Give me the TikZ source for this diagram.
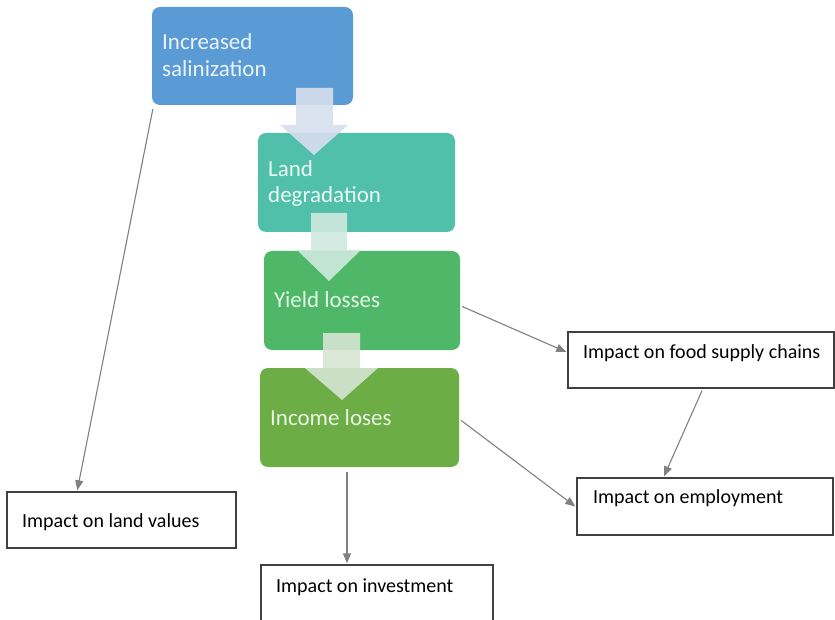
\documentclass[tikz,border=0pt]{standalone}
\usepackage{fontspec}
\setmainfont{Carlito}
\usetikzlibrary{arrows.meta,calc}
\definecolor{cblue}{HTML}{5B9BD5}
\definecolor{cteal}{HTML}{50C0AA}
\definecolor{cgreen}{HTML}{4FB868}
\definecolor{colive}{HTML}{6CAD45}
\definecolor{cline}{HTML}{808080}
\definecolor{cbord}{HTML}{404040}
\definecolor{aone}{HTML}{D8DFEE}
\definecolor{atwo}{HTML}{CFE9DF}
\definecolor{athree}{HTML}{D6E5D3}
\tikzset{
  cbox/.style={draw=none, rounded corners=8pt, inner sep=0pt},
  wbox/.style={draw=cbord, line width=1.4pt, fill=white, inner sep=0pt},
  ctext/.style={anchor=base west, inner sep=0pt, font=\fontsize{23}{27}\selectfont, text=white!88!cblue},
  wtext/.style={anchor=base west, inner sep=0pt, font=\fontsize{20}{24}\selectfont, text=black},
  conn/.style={draw=cline, line width=1.1pt, -{Triangle[length=10pt,width=8pt]}},
  barrow/.style={draw=none, fill opacity=0.9}
}
\begin{document}
\begin{tikzpicture}[x=1pt,y=-1pt]
\useasboundingbox (0,0) rectangle (835,620);
\fill[white] (0,0) rectangle (835,620);
% coloured boxes
\node[cbox, fill=cblue, minimum width=201pt, minimum height=98pt] (sal) at (252.5,56) {};
\node[cbox, fill=cteal, minimum width=197pt, minimum height=99pt] (land) at (356.5,182.5) {};
\node[cbox, fill=cgreen, minimum width=196pt, minimum height=99pt] (yl) at (362,300.5) {};
\node[cbox, fill=colive, minimum width=199pt, minimum height=99pt] (inc) at (359.5,417.5) {};
% block arrows
\fill[aone, barrow] (296,88) -- (333,88) -- (333,125) -- (348,125) -- (314,155) -- (280,125) -- (296,125) -- cycle;
\fill[atwo, barrow] (311,213) -- (347,213) -- (347,250) -- (361,250) -- (329,281) -- (297,250) -- (311,250) -- cycle;
\fill[athree, barrow] (323,333) -- (360,333) -- (360,368) -- (378,368) -- (342,400) -- (305,368) -- (323,368) -- cycle;
% texts of coloured boxes
\node[ctext] (t1a) at (162,50) {Increased};
\node[ctext] (t1b) at (162,77) {salinization};
\node[ctext, text=white!88!cteal] (t2a) at (268,177) {Land};
\node[ctext, text=white!88!cteal] (t2b) at (268,203) {degradation};
\node[ctext, text=white!85!cgreen] (t3) at (274,308) {Yield losses};
\node[ctext, text=white!85!colive] (t4) at (270,425) {Income loses};
% white boxes
\node[wbox, minimum width=266pt, minimum height=56pt] (food) at (701,360) {};
\node[wbox, minimum width=256pt, minimum height=57pt] (emp) at (705,506.5) {};
\node[wbox, minimum width=229pt, minimum height=56pt] (lv) at (121.5,520) {};
\node[wbox, minimum width=232pt, minimum height=57pt] (inv) at (377,593.5) {};
\node[wtext] (tf) at (583,358) {Impact on food supply chains};
\node[wtext] (te) at (593,503) {Impact on employment};
\node[wtext] (tl) at (22,527) {Impact on land values};
\node[wtext] (ti) at (276,592) {Impact on investment};
% connectors
\draw[conn] ($(sal.south west)+(1,4)$) -- ($(lv.north west)+(71,-1)$);
\draw[conn] ($(yl.east)+(2,6)$) -- ($(food.west)+(-1,-8)$);
\draw[conn] ($(inc.east)+(2,3)$) -- ($(emp.west)+(-1,0)$);
\draw[conn] ($(food.south)+(1,2)$) -- ($(emp.north)+(-41,-1)$);
\draw[conn] ($(inc.south)+(-12.5,5)$) -- ($(inv.north)+(-30,-1)$);
\end{tikzpicture}
\end{document}
